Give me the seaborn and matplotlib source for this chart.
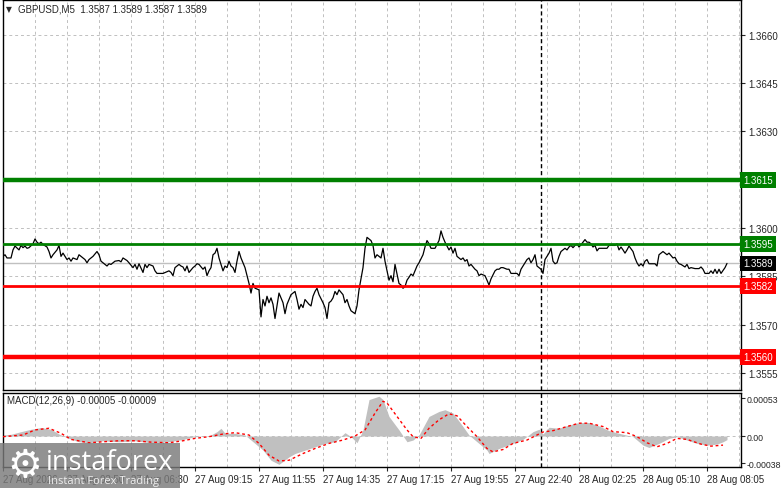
import numpy as np
import pandas as pd
import matplotlib
matplotlib.use('Agg')
import matplotlib.pyplot as plt
import matplotlib.transforms as mtransforms
from matplotlib.patches import Rectangle
import seaborn as sns

sns.set_style('white')
plt.rcParams['font.family'] = ['Liberation Sans', 'DejaVu Sans']

# ---- data (bar number = 5 minute candle since start) ----
bar_no = [0, 1, 2, 4, 5, 6, 8, 9, 10, 11, 12, 13, 15, 16, 17, 18, 19, 20, 22, 23,
          24, 25, 27, 28, 29, 30, 32, 33, 34, 35, 37, 38, 40, 41, 42, 43, 45, 47, 48, 49,
          50, 52, 53, 54, 56, 58, 59, 60, 62, 63, 65, 66, 67, 68, 70, 71, 72, 73, 75, 76,
          77, 80, 83, 84, 85, 86, 88, 89, 90, 91,
          92, 93, 95, 96, 97, 98, 100, 101, 102, 103, 104, 105, 106, 107, 108, 110, 111, 112, 113, 114,
          115, 116, 117, 118, 119, 121, 122, 123, 124, 125, 126, 128, 129, 130, 131, 132, 133, 134, 135, 136,
          137, 138, 140, 141, 142, 143, 144, 146, 147, 148, 149, 150, 151, 153, 154, 155, 156, 157, 158, 160,
          161, 162, 163, 164, 165, 166, 167, 168, 170, 171, 172, 173, 174, 176, 177, 178, 179, 180, 181, 182,
          183, 184,
          185, 186, 187, 188, 189, 190, 191, 192, 193, 194, 195, 196, 197, 198, 199, 200, 201, 202, 203, 204,
          205, 206, 207, 208, 210, 211, 212, 213, 214, 215, 216, 218, 219, 220, 221, 223, 224, 225, 226, 227,
          228, 229, 230, 231, 232, 233, 234, 236, 237, 238, 239, 241, 242, 243, 244, 246, 247, 248, 249, 250,
          252, 253, 254, 255, 256, 257, 258, 259, 261, 262, 263, 264, 265, 266, 267, 268, 269, 270, 271, 272,
          273, 274, 275,
          276, 277, 278, 279, 280, 281, 282, 283, 284, 285, 286, 287, 288, 289, 290, 291, 292, 293, 294, 295,
          296, 297, 298, 299, 300, 301, 302, 303, 304, 306, 307, 308, 309, 310, 311, 312, 313, 315, 316, 317,
          318, 319, 320, 321, 322, 323, 325, 326, 327, 328, 329, 330, 331, 332, 333, 335, 336, 337, 338, 339,
          341, 342, 343, 344, 346, 347, 348, 349, 350, 351, 353, 354, 355, 356, 357, 358, 359, 361, 362]
close = [1.35912, 1.35917, 1.35907, 1.35907, 1.35932, 1.35944, 1.35932, 1.35946, 1.35939, 1.35944,
         1.35937, 1.35939, 1.35951, 1.35966, 1.35956, 1.35951, 1.35956, 1.35949, 1.35941, 1.35927,
         1.35907, 1.35917, 1.35932, 1.35946, 1.35912, 1.35922, 1.35902, 1.35907, 1.35897, 1.35907,
         1.35902, 1.35917, 1.35907, 1.35902, 1.35892, 1.35902, 1.35912, 1.35927, 1.35917, 1.35897,
         1.35892, 1.35882, 1.35889, 1.35887, 1.35897, 1.35899, 1.35895, 1.35907, 1.35899, 1.35892,
         1.35877, 1.35887, 1.35872, 1.35889, 1.35862, 1.35887, 1.35877, 1.35887, 1.35882, 1.35867,
         1.35859, 1.35859, 1.35867, 1.35862, 1.35852, 1.35877, 1.35887, 1.35882, 1.35879, 1.35867,
         1.35882, 1.35862, 1.35877, 1.35882, 1.35889, 1.35887, 1.35872, 1.35879, 1.35852, 1.35867,
         1.35877, 1.35917, 1.35922, 1.35937, 1.35907, 1.35867, 1.35882, 1.35877, 1.35897, 1.35882,
         1.35877, 1.35862, 1.35897, 1.35927, 1.35907, 1.35877, 1.35852, 1.35828, 1.35798, 1.35828,
         1.35813, 1.35808, 1.35724, 1.35778, 1.35758, 1.35788, 1.35768, 1.35783, 1.35763, 1.35719,
         1.35758, 1.35798, 1.35768, 1.35734, 1.35763, 1.35778, 1.35793, 1.35803, 1.35778, 1.35748,
         1.35763, 1.35753, 1.35778, 1.35763, 1.35758, 1.35788, 1.35803, 1.35813, 1.35793, 1.35768,
         1.35753, 1.35719, 1.35768, 1.35773, 1.35783, 1.35803, 1.35793, 1.35808, 1.35793, 1.35768,
         1.35778, 1.35758, 1.35743, 1.35734, 1.35758, 1.35808, 1.35842, 1.35877, 1.35937, 1.35971,
         1.35966, 1.35961,
         1.35946, 1.35907, 1.35917, 1.35912, 1.35907, 1.35937, 1.35897, 1.35867, 1.35838, 1.35852,
         1.35833, 1.35887, 1.35857, 1.35828, 1.35823, 1.35813, 1.35818, 1.35838, 1.35847, 1.35857,
         1.35852, 1.35867, 1.35882, 1.35892, 1.35917, 1.35941, 1.35961, 1.35951, 1.35937, 1.35937,
         1.35937, 1.35961, 1.35991, 1.35971, 1.35956, 1.35932, 1.35941, 1.35922, 1.35937, 1.35912,
         1.35907, 1.35902, 1.35907, 1.35897, 1.35902, 1.35882, 1.35887, 1.35872, 1.35867, 1.35852,
         1.35857, 1.35852, 1.35838, 1.35823, 1.35842, 1.35867, 1.35872, 1.35872, 1.35877, 1.35877,
         1.35872, 1.35872, 1.35859, 1.35859, 1.35859, 1.35859, 1.35852, 1.35872, 1.35892, 1.35902,
         1.35907, 1.35892, 1.35902, 1.35917, 1.35882, 1.35877, 1.35872, 1.35859, 1.35902, 1.35912,
         1.35922, 1.35937, 1.35897,
         1.35889, 1.35892, 1.35912, 1.35927, 1.35932, 1.35937, 1.35932, 1.35941, 1.35946, 1.35939,
         1.35946, 1.35951, 1.35941, 1.35948, 1.35956, 1.35964, 1.35956, 1.35956, 1.35951, 1.35941,
         1.35946, 1.35929, 1.35937, 1.35937, 1.35937, 1.35937, 1.35937, 1.35946, 1.35946, 1.35946,
         1.35951, 1.35932, 1.35941, 1.35932, 1.35922, 1.35932, 1.35944, 1.35927, 1.35907, 1.35892,
         1.35882, 1.35889, 1.35882, 1.35897, 1.35902, 1.35889, 1.35889, 1.35889, 1.35882, 1.35917,
         1.35922, 1.35927, 1.35922, 1.35917, 1.35922, 1.35907, 1.35909, 1.35897, 1.35889, 1.35887,
         1.35879, 1.35887, 1.35874, 1.35877, 1.35874, 1.35874, 1.35874, 1.35879, 1.35872, 1.35859,
         1.35859, 1.35867, 1.35859, 1.35872, 1.35859, 1.35872, 1.35859, 1.35877, 1.35890]

hist_bar = [0, 4, 9, 14, 19, 24, 28, 33, 38, 43, 50, 58, 66, 74, 83, 90, 96, 103, 107, 109,
            111, 116, 121, 124, 130, 134, 138, 143, 146, 151, 156, 161, 166, 171, 174, 177, 180, 183, 188, 190,
            193, 198, 202, 205, 208, 213, 218, 221, 225, 230, 233, 237, 242, 243, 248, 255, 260, 265, 268, 270,
            273, 278, 283, 288, 293, 298, 303, 308, 315, 320, 323, 328, 333, 337, 342, 347, 352, 357, 360, 362]
hist_val = [0.000014, 0.000024, 0.000061, 0.000094, 0.000118, 0.000094, 0.000028, -0.000033, -0.00008, -0.000094,
            -0.000066, -0.00008, -0.000066, -0.000094, -0.00008, -0.000047, -0.000009, 0.0, 0.000061, 0.000108,
            0.000038, 0.000038, 0.000014, -0.000056, -0.000197, -0.000338, -0.000395, -0.000291, -0.000244, -0.000197,
            -0.00015, -0.000103, -0.00008, 0.000047, -0.000009, -0.000094, 0.000085, 0.000508, 0.000555, 0.000508,
            0.000273, 0.000085, -0.00008, -0.000056, 0.000014, 0.000273, 0.000343, 0.000367, 0.00032, 0.000132,
            0.000014, -0.00008, -0.000197, -0.000244, -0.000174, -0.000103, -0.000047, 0.000061, 0.000094, 0.000028,
            0.000122, 0.000108, 0.000155, 0.000188, 0.000188, 0.000141, 0.000075, 0.000038, -0.000009, -0.000127,
            -0.00016, -0.000103, -0.000033, -0.000009, -0.000056, -0.000103, -0.000127, -0.000113, -0.00008, -0.00005]

sig_bar = [0, 10, 16, 23, 29, 34, 43, 50, 58, 66, 74, 83, 90, 96, 103, 110, 116, 123, 128, 133,
           138, 143, 150, 156, 163, 170, 176, 181, 186, 190, 192, 197, 202, 205, 209, 213, 218, 223, 227, 232,
           237, 242, 245, 250, 255, 262, 267, 270, 275, 282, 288, 293, 300, 305, 312, 317, 322, 327, 332, 337,
           342, 349, 354, 360]
sig_val = [-0.000009, 0.000014, 0.000085, 0.000108, 0.000038, -0.000047, -0.000094, -0.00008, -0.000066, -0.000066,
           -0.000085, -0.000094, -0.000066, -0.000033, -0.000009, 0.000028, 0.000047, 0.000014, -0.000103, -0.000268,
           -0.000348, -0.000338, -0.000244, -0.000174, -0.000103, -0.000056, 0.0, 0.000085, 0.00032, 0.000484,
           0.000461, 0.000273, 0.000085, -0.000009, -0.000033, 0.000108, 0.000226, 0.00031, 0.000282, 0.000132,
           -0.000009, -0.000174, -0.000221, -0.000188, -0.000103, -0.000056, 0.000014, 0.000056, 0.000075, 0.000132,
           0.000179, 0.000179, 0.000132, 0.000061, 0.000047, -0.000009, -0.000094, -0.00015, -0.000103, -0.000033,
           -0.000047, -0.000113, -0.000141, -0.000127]

level_prices = [1.3615, 1.3595, 1.3582, 1.3560]
level_colors = ['#008000', '#008000', '#ff0000', '#ff0000']
level_widths = [3.2, 2.0, 2.0, 3.2]
last_price = 1.3589
price_ticks = [1.3555, 1.3570, 1.3585, 1.3600, 1.3630, 1.3645, 1.3660]
grid_prices = [1.3555, 1.3570, 1.3585, 1.3600, 1.3615, 1.3630, 1.3645, 1.3660]
macd_ticks = [0.00053, 0.0, -0.00038]
macd_tick_labels = ['0.00053', '0.00', '-0.00038']
time_ticks = [0, 32, 64, 96, 128, 160, 192, 224, 256, 288, 320, 352]
time_labels = ['27 Aug 2026', '27 Aug 03:50', '27 Aug 06:30', '27 Aug 09:15', '27 Aug 11:55',
               '27 Aug 14:35', '27 Aug 17:15', '27 Aug 19:55', '27 Aug 22:40', '28 Aug 02:25',
               '28 Aug 05:10', '28 Aug 08:05']
vline_bar = 269

FS = 7.0
FS_AX = 6.3

# ---- layout ----
W, H = 781, 489
fig = plt.figure(figsize=(W / 100, H / 100), dpi=100)
ax = fig.add_axes([3 / W, 1 - 391 / H, 738 / W, 390 / H])
ax2 = fig.add_axes([3 / W, 1 - 468 / H, 738 / W, 74 / H])

grid_kw = dict(color='#c0c0c0', lw=0.7, ls=(0, (3, 3)), zorder=0)
for a in (ax, ax2):
    a.set_xlim(0, 369)
    for b in range(16, 369, 16):
        a.axvline(b, **grid_kw)
    a.axvline(vline_bar, color='black', lw=1, ls=(0, (3, 2)), zorder=1)
    for s in a.spines.values():
        s.set_color('black')
        s.set_linewidth(1)

# main price panel
ax.set_ylim(1.35497, 1.36708)
for p in grid_prices:
    ax.axhline(p, **grid_kw)
ax.axhline(last_price, color='#c0c0c0', lw=1, zorder=1)

sns.lineplot(x=bar_no, y=close, ax=ax, color='black', lw=0.9, sort=False, zorder=3)

trans = mtransforms.blended_transform_factory(ax.transAxes, ax.transData)
for p, c, w in zip(level_prices, level_colors, level_widths):
    ax.axhline(p, color=c, lw=w, zorder=4)
    ax.text(1.003, p, f'{p:.4f}', transform=trans, color='white', fontsize=FS,
            va='center', ha='left',
            bbox=dict(boxstyle='square,pad=0.3', fc=c, ec='none'))
ax.text(1.003, last_price, f'{last_price:.4f}', transform=trans, color='white', fontsize=FS,
        va='center', ha='left', bbox=dict(boxstyle='square,pad=0.3', fc='black', ec='none'))

ax.yaxis.tick_right()
ax.set_yticks(price_ticks)
ax.set_yticklabels([f'{p:.4f}' for p in price_ticks])
ax.tick_params(axis='y', direction='out', length=3, width=0.8, labelsize=FS, pad=2, right=True)
ax.set_xticks([])
ax.set_xlabel('')
ax.set_ylabel('')

# MACD panel
ax2.set_ylim(-0.000432, 0.0006)
ax2.axhline(0, **grid_kw)
ax2.fill_between(hist_bar, 0, hist_val, color='#c0c0c0', lw=0, zorder=2)
sns.lineplot(x=sig_bar, y=sig_val, ax=ax2, color='red', lw=1, sort=False,
             linestyle=(0, (2, 2)), zorder=3)
ax2.yaxis.tick_right()
ax2.set_yticks(macd_ticks)
ax2.set_yticklabels(macd_tick_labels)
ax2.tick_params(axis='y', direction='out', length=3, width=0.8, labelsize=FS_AX, pad=1, right=True)
ax2.set_xticks(time_ticks)
ax2.set_xticklabels(time_labels, ha='left')
ax2.tick_params(axis='x', direction='out', length=3, width=0.8, labelsize=FS, pad=2, bottom=True)
ax2.set_xlabel('')
ax2.set_ylabel('')

# header texts
fig.text(6 / W, 1 - 10 / H, '▼', fontsize=5.5, va='center', family=['DejaVu Sans'])
fig.text(18 / W, 1 - 10 / H, 'GBPUSD,M5  1.3587 1.3589 1.3587 1.3589', fontsize=FS, va='center')
fig.text(7 / W, 1 - 401 / H, 'MACD(12,26,9) -0.00005 -0.00009', fontsize=FS, va='center')

# watermark
fig.add_artist(Rectangle((0, 0), 180 / W, 45 / H, transform=fig.transFigure,
                         fc='#7a7a7a', ec='none', alpha=0.82, zorder=10))
fig.text(25 / W, 1 - 466 / H, '⚙', fontsize=28, color='white', ha='center', va='center',
         family=['DejaVu Sans'], zorder=11)
fig.text(46 / W, 1 - 463 / H, 'instaforex', fontsize=19.5, color='white', va='center',
         family=['Open Sans', 'DejaVu Sans'], zorder=11)
fig.text(48 / W, 1 - 482 / H, 'Instant Forex Trading', fontsize=8, color='#eeeeee', va='center',
         family=['Open Sans', 'DejaVu Sans'], zorder=11)

fig.savefig('out.png', dpi=100)
